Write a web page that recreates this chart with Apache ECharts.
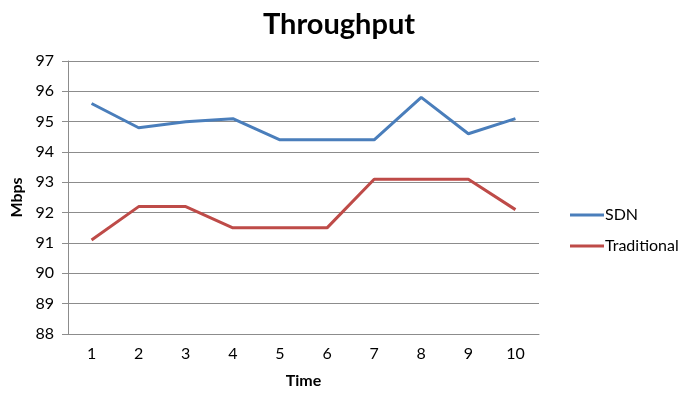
<!DOCTYPE html>
<html>
<head>
<meta charset="utf-8">
<script src="https://cdn.jsdelivr.net/npm/echarts@6/dist/echarts.min.js"></script>
<style>
  html, body { margin: 0; padding: 0; background: #fff; }
  #chart { width: 678px; height: 394px; }
</style>
</head>
<body>
<div id="chart"></div>
<script>
// Time steps on the x axis
const timeSteps = ['1', '2', '3', '4', '5', '6', '7', '8', '9', '10'];
// Measured throughput in Mbps
const sdnValues = [95.6, 94.8, 95.0, 95.1, 94.4, 94.4, 94.4, 95.8, 94.6, 95.1];
const traditionalValues = [91.1, 92.2, 92.2, 91.5, 91.5, 91.5, 93.1, 93.1, 93.1, 92.1];
// Value axis range
const yMin = 88, yMax = 97, yStep = 1;

const font = 'Lato, "Open Sans", sans-serif';
const chart = echarts.init(document.getElementById('chart'), null, { renderer: 'canvas' });

chart.setOption({
  animation: false,
  backgroundColor: '#ffffff',
  title: {
    text: 'Throughput',
    left: 'center',
    top: 5,
    textStyle: { fontFamily: font, fontSize: 29, fontWeight: 'bold', color: '#000' }
  },
  legend: {
    orient: 'vertical',
    left: 565,
    top: 202,
    itemWidth: 34,
    itemHeight: 3,
    itemGap: 15,
    icon: 'rect',
    textStyle: { fontFamily: font, fontSize: 16, color: '#000', padding: [0, 0, 0, -4] },
    data: ['SDN', 'Traditional']
  },
  grid: { left: 68, right: 139, top: 61, bottom: 56 },
  xAxis: {
    type: 'category',
    data: timeSteps,
    boundaryGap: true,
    name: 'Time',
    nameLocation: 'middle',
    nameGap: 39,
    nameTextStyle: { fontFamily: font, fontSize: 16, fontWeight: 'bold', color: '#000' },
    axisLine: { show: true, lineStyle: { color: '#8c8c8c', width: 1 } },
    axisTick: { show: false },
    axisLabel: { fontFamily: font, fontSize: 16, color: '#000', margin: 12 },
    splitLine: { show: false }
  },
  yAxis: {
    type: 'value',
    min: yMin,
    max: yMax,
    interval: yStep,
    name: 'Mbps',
    nameLocation: 'middle',
    nameGap: 39,
    nameRotate: 90,
    nameTextStyle: { fontFamily: font, fontSize: 16, fontWeight: 'bold', color: '#000' },
    axisLine: { show: true, lineStyle: { color: '#8c8c8c', width: 1 } },
    axisTick: { show: true, length: 6, lineStyle: { color: '#8c8c8c' } },
    axisLabel: { fontFamily: font, fontSize: 16, color: '#000', margin: 14 },
    splitLine: { show: true, lineStyle: { color: '#8c8c8c', width: 1 } }
  },
  series: [
    {
      name: 'SDN',
      type: 'line',
      data: sdnValues,
      symbol: 'none',
      color: '#4a7ebb',
      lineStyle: { width: 3, color: '#4a7ebb' }
    },
    {
      name: 'Traditional',
      type: 'line',
      data: traditionalValues,
      symbol: 'none',
      color: '#be4b48',
      lineStyle: { width: 3, color: '#be4b48' }
    }
  ]
});
</script>
</body>
</html>
